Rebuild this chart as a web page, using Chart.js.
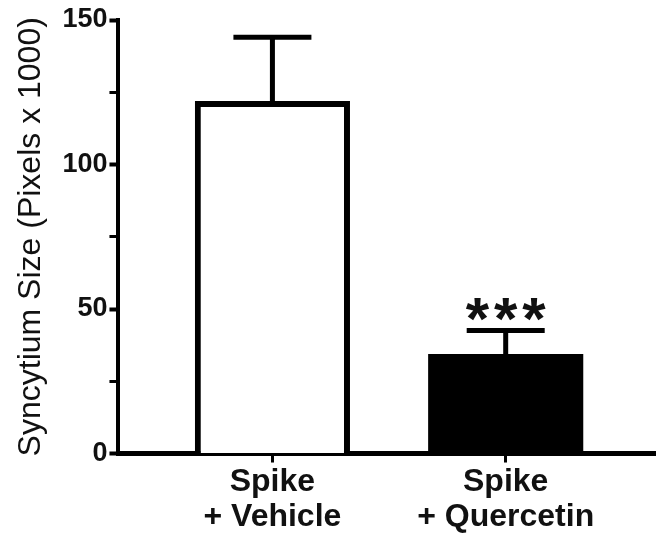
<!DOCTYPE html>
<html>
<head>
<meta charset="utf-8">
<script src="https://cdn.jsdelivr.net/npm/chart.js@4"></script>
<style>
	body { margin: 0; background: #fff; }
	#wrap { width: 657px; height: 537px; position: relative; }
</style>
</head>
<body>
<div id="wrap"><canvas id="barChart"></canvas></div>
<script>
	// values
	var groupLabels = [['Spike', '+ Vehicle'], ['Spike', '+ Quercetin']];
	var meanValues = [122, 34.4];
	var semValues = [22, 8.2];
	var starLabels = ['', '***'];
	var barFills = ['#ffffff', '#000000'];
	var yTitle = 'Syncytium Size (Pixels x 1000)';

	var points = [];
	meanValues.forEach(function (v, i) {
		points.push({ x: i + 1, y: v });
	});

	/**
	 * Error bars (upward only) and significance stars
	 */
	var errorBarPlugin = {
		id: 'errorBars',
		afterDatasetsDraw: function (chart) {
			var ctx = chart.ctx;
			var yScale = chart.scales.y;
			var meta = chart.getDatasetMeta(0);
			ctx.save();
			ctx.strokeStyle = '#000';
			ctx.fillStyle = '#111';
			ctx.lineWidth = 5;
			meta.data.forEach(function (bar, i) {
				var top = yScale.getPixelForValue(meanValues[i] + semValues[i]);
				var base = yScale.getPixelForValue(meanValues[i]);
				ctx.beginPath();
				ctx.moveTo(bar.x, base);
				ctx.lineTo(bar.x, top);
				ctx.moveTo(bar.x - 39, top);
				ctx.lineTo(bar.x + 39, top);
				ctx.stroke();
				if (starLabels[i]) {
					ctx.font = 'bold 60px "Liberation Sans", Arial, sans-serif';
					ctx.letterSpacing = '5px';
					ctx.textAlign = 'center';
					ctx.textBaseline = 'alphabetic';
					ctx.fillText(starLabels[i], bar.x + 2.5, top + 9);
				}
			});
			ctx.restore();
		}
	};

	var ctx = document.getElementById('barChart').getContext('2d');
	var barChart = new Chart(ctx, {
		type: 'bar',
		data: {
			datasets: [{
				data: points,
				backgroundColor: barFills,
				borderColor: '#000',
				borderWidth: [6, 0],
				borderSkipped: 'start',
				barPercentage: 0.665,
				categoryPercentage: 1,
			}],
		},
		options: {
			responsive: true,
			maintainAspectRatio: false,
			animation: false,
			layout: {
				padding: { top: 20, right: 2, bottom: 0, left: 0 }
			},
			plugins: {
				legend: { display: false },
				tooltip: { enabled: false }
			},
			scales: {
				x: {
					type: 'linear',
					offset: false,
					min: 0.34,
					max: 2.64,
					afterBuildTicks: function (axis) {
						axis.ticks = groupLabels.map(function (l, i) {
							return { value: i + 1 };
						});
					},
					border: { color: '#000', width: 5 },
					grid: {
						offset: false,
						drawOnChartArea: false,
						tickLength: 9,
						tickWidth: 3,
						tickColor: '#000'
					},
					ticks: {
						padding: 3,
						color: '#111',
						maxRotation: 0,
						autoSkip: false,
						font: { family: '"Liberation Sans", Arial, sans-serif', size: 32, weight: 'bold', lineHeight: 1.07 },
						callback: function (value) {
							return groupLabels[value - 1] || '';
						}
					}
				},
				y: {
					min: 0,
					max: 150,
					border: { color: '#000', width: 4 },
					grid: {
						drawOnChartArea: false,
						tickLength: 9,
						tickColor: '#000',
						tickWidth: function (c) {
							return c.tick && c.tick.value % 50 === 0 ? 4 : 3;
						}
					},
					ticks: {
						stepSize: 25,
						padding: 2,
						color: '#111',
						font: { family: '"Liberation Sans", Arial, sans-serif', size: 27, weight: 'bold' },
						callback: function (value) {
							return value % 50 === 0 ? value : '';
						}
					},
					title: {
						display: true,
						text: yTitle,
						color: '#111',
						padding: { top: 12, bottom: 10 },
						font: { family: '"Liberation Sans", Arial, sans-serif', size: 32, weight: 'normal' }
					}
				}
			}
		},
		plugins: [errorBarPlugin]
	});
</script>
</body>
</html>
